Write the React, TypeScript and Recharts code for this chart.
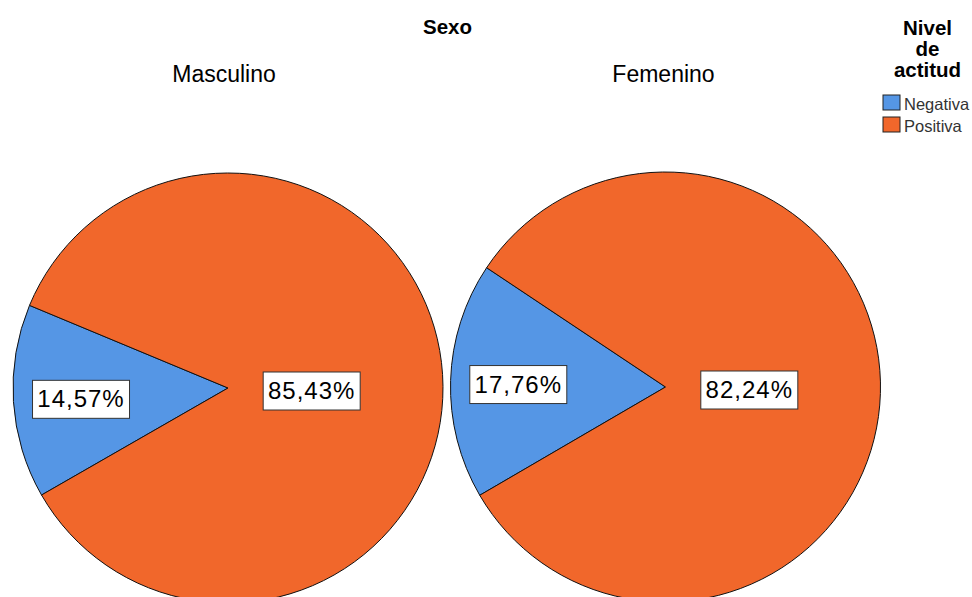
import React from "react";
import { PieChart, Pie, Cell } from "recharts";

const categories = ["Negativa", "Positiva"];
const groups = ["Masculino", "Femenino"];
const masculinoValues = [14.57, 85.43];
const femeninoValues = [17.76, 82.24];
const colors = ["#5596E5", "#F1672B"];

const FONT = "'Liberation Sans', Arial, sans-serif";

const toRows = (values: number[]) =>
  categories.map((name, i) => ({ name, value: values[i] }));

const fmt = (v: number) => v.toFixed(2).replace(".", ",") + "%";

const RAD = Math.PI / 180;

// Small slice: label sits along its bisector; large slice: label sits level with the centre.
const renderLabel = (props: any) => {
  const { cx, cy, midAngle, outerRadius, value, index } = props;
  let x: number;
  let y: number;
  if (index === 0) {
    const r = outerRadius * 0.685;
    x = cx + r * Math.cos(-midAngle * RAD);
    y = cy + r * Math.sin(-midAngle * RAD) + 2;
  } else {
    const r = outerRadius * 0.39;
    x = cx + r * Math.cos(-midAngle * RAD);
    y = cy + 3;
  }
  const w = 97;
  const h = 38;
  return (
    <g>
      <rect x={x - w / 2} y={y - h / 2} width={w} height={h} fill="#fff" stroke="#333" strokeWidth={1} />
      <text
        x={x}
        y={y + 8}
        textAnchor="middle"
        fontFamily={FONT}
        fontSize={24}
        letterSpacing={1}
        fill="#000"
      >
        {fmt(value)}
      </text>
    </g>
  );
};

export default function App() {
  const pies = [
    { data: toRows(masculinoValues), cx: 228, cy: 388, start: 157.4 },
    { data: toRows(femeninoValues), cx: 665.5, cy: 387, start: 146.3 },
  ];
  return (
    <div style={{ position: "absolute", left: 0, top: 0, width: 972, height: 597, background: "#fff", overflow: "hidden" }}>
      <PieChart width={972} height={597} margin={{ top: 0, right: 0, bottom: 0, left: 0 }}>
        {pies.map((p, k) => (
          <Pie
            key={groups[k]}
            data={p.data}
            dataKey="value"
            nameKey="name"
            cx={p.cx}
            cy={p.cy}
            outerRadius={215}
            startAngle={p.start}
            endAngle={p.start + 360}
            stroke="#111"
            strokeWidth={1}
            label={renderLabel}
            labelLine={false}
            isAnimationActive={false}
          >
            {p.data.map((d, i) => (
              <Cell key={d.name} fill={colors[i]} />
            ))}
          </Pie>
        ))}
      </PieChart>
      <svg width={972} height={597} style={{ position: "absolute", left: 0, top: 0, pointerEvents: "none" }}>
        <text x={447.5} y={34} textAnchor="middle" fontFamily={FONT} fontWeight="bold" fontSize={20.5} fill="#000">
          Sexo
        </text>
        {groups.map((g, k) => (
          <text
            key={g}
            x={k === 0 ? 224 : 663.5}
            y={82}
            textAnchor="middle"
            fontFamily={FONT}
            fontSize={23}
            fill="#000"
          >
            {g}
          </text>
        ))}
        {["Nivel", "de", "actitud"].map((t, i) => (
          <text
            key={t}
            x={927.5}
            y={35 + i * 21}
            textAnchor="middle"
            fontFamily={FONT}
            fontWeight="bold"
            fontSize={20.5}
            fill="#000"
          >
            {t}
          </text>
        ))}
        {categories.map((c, i) => (
          <g key={c}>
            <rect x={883} y={95 + i * 22} width={17} height={15} fill={colors[i]} stroke="#222" strokeWidth={1} />
            <text x={904} y={110 + i * 22} fontFamily={FONT} fontSize={16.5} fill="#333">
              {c}
            </text>
          </g>
        ))}
      </svg>
    </div>
  );
}
